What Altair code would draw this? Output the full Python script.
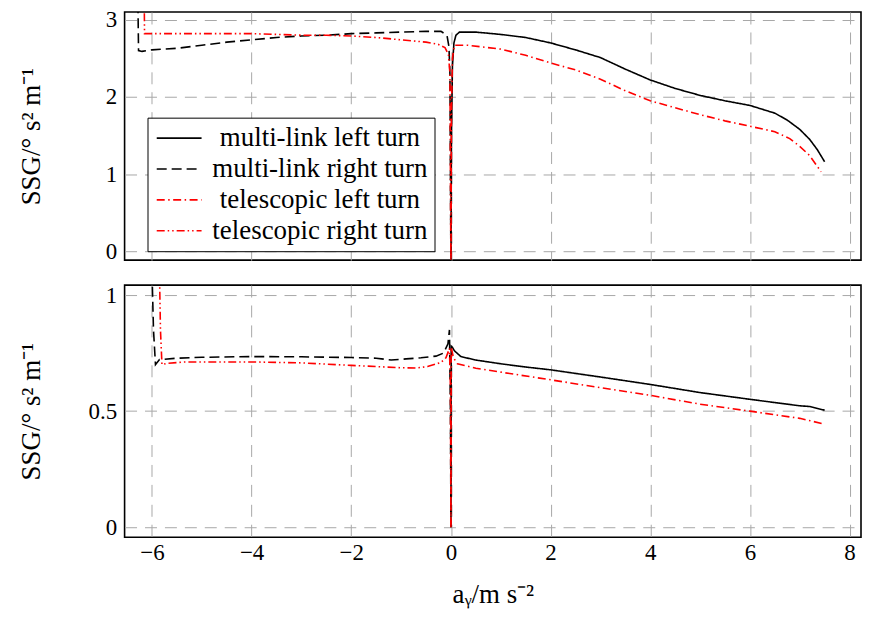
import altair as alt
import pandas as pd

series = ["multi-link left turn", "multi-link right turn",
          "telescopic left turn", "telescopic right turn"]
x_ticks = [-6, -4, -2, 0, 2, 4, 6, 8]

# ---- top panel ----
top_ml_left_x = [0.0, 0.01, 0.03, 0.06, 0.1, 0.17, 0.5, 1.0, 1.5, 2.0, 2.5, 3.0, 3.5,
                 4.0, 4.5, 5.0, 5.5, 6.0, 6.5, 6.75, 7.0, 7.2, 7.35, 7.5]
top_ml_left_y = [-0.3, 1.5, 2.4, 2.7, 2.8, 2.84, 2.84, 2.81, 2.77, 2.70, 2.61, 2.51, 2.36,
                 2.22, 2.11, 2.02, 1.95, 1.89, 1.79, 1.70, 1.58, 1.45, 1.32, 1.16]

top_ml_right_x = [-6.29, -6.27, -6.2, -6.0, -5.5, -5.0, -4.5, -4.0, -3.5, -3.0, -2.5, -2.0,
                  -1.5, -1.0, -0.5, -0.2, -0.08, -0.04, -0.02, 0.0]
top_ml_right_y = [3.6, 2.6, 2.59, 2.61, 2.63, 2.67, 2.71, 2.74, 2.77, 2.79, 2.80, 2.82,
                  2.83, 2.84, 2.85, 2.85, 2.80, 2.65, 2.3, -0.3]

top_tel_left_x = [0.0, 0.01, 0.03, 0.07, 0.33, 1.0, 1.5, 2.0, 2.5, 3.0, 3.5, 4.0, 4.5,
                  5.0, 5.5, 6.0, 6.5, 6.8, 7.0, 7.2, 7.43]
top_tel_left_y = [-0.3, 1.8, 2.5, 2.67, 2.67, 2.62, 2.54, 2.44, 2.35, 2.23, 2.08, 1.95, 1.86,
                  1.77, 1.69, 1.62, 1.55, 1.46, 1.36, 1.24, 1.03]

top_tel_right_x = [-6.16, -6.15, -6.0, -5.0, -4.0, -3.0, -2.5, -2.0, -1.5, -1.0, -0.5,
                   -0.25, -0.12, -0.05, -0.02, 0.0]
top_tel_right_y = [3.6, 2.82, 2.82, 2.82, 2.82, 2.80, 2.80, 2.79, 2.77, 2.74, 2.71,
                   2.68, 2.64, 2.55, 2.3, -0.3]

# ---- bottom panel ----
bot_ml_left_x = [0.0, 0.005, 0.03, 0.07, 0.2, 0.5, 1.0, 1.5, 2.0, 3.0, 4.0, 5.0, 6.0,
                 6.5, 7.0, 7.2, 7.5]
bot_ml_left_y = [0.0, 0.78, 0.775, 0.76, 0.735, 0.72, 0.704, 0.69, 0.678, 0.647, 0.615,
                 0.58, 0.551, 0.537, 0.523, 0.52, 0.504]

bot_ml_right_x = [-6.0, -5.97, -5.93, -5.85, -5.5, -5.0, -4.0, -3.0, -2.0, -1.5, -1.2,
                  -0.9, -0.6, -0.3, -0.15, -0.06, -0.03, -0.01, 0.0]
bot_ml_right_y = [1.1, 0.85, 0.70, 0.722, 0.728, 0.732, 0.735, 0.734, 0.731, 0.728, 0.72,
                  0.725, 0.73, 0.737, 0.75, 0.79, 0.85, 0.5, 0.0]

bot_tel_left_x = [0.0, 0.005, 0.05, 0.13, 0.5, 1.0, 2.0, 3.0, 4.0, 5.0, 6.0, 7.0, 7.5]
bot_tel_left_y = [0.0, 0.775, 0.73, 0.704, 0.685, 0.668, 0.635, 0.601, 0.568, 0.53, 0.5,
                  0.469, 0.444]

bot_tel_right_x = [-5.85, -5.83, -5.8, -5.7, -5.33, -4.0, -3.0, -2.0, -1.5, -1.0, -0.7,
                   -0.47, -0.2, -0.1, -0.03, -0.01, 0.0]
bot_tel_right_y = [1.1, 0.85, 0.70, 0.706, 0.712, 0.712, 0.708, 0.697, 0.692, 0.687, 0.686,
                   0.692, 0.71, 0.73, 0.77, 0.6, 0.0]


def frame(pairs):
    rows = []
    for s, xs, ys in pairs:
        for i, (xv, yv) in enumerate(zip(xs, ys)):
            rows.append({"series": s, "x": xv, "y": yv, "order": i})
    return pd.DataFrame(rows)


df_top = frame([
    (series[0], top_ml_left_x, top_ml_left_y),
    (series[1], top_ml_right_x, top_ml_right_y),
    (series[2], top_tel_left_x, top_tel_left_y),
    (series[3], top_tel_right_x, top_tel_right_y),
])
df_bot = frame([
    (series[0], bot_ml_left_x, bot_ml_left_y),
    (series[1], bot_ml_right_x, bot_ml_right_y),
    (series[2], bot_tel_left_x, bot_tel_left_y),
    (series[3], bot_tel_right_x, bot_tel_right_y),
])

FONT = "Liberation Serif"
legend = alt.Legend(
    title=None, orient="none", legendX=23, legendY=106,
    symbolType="M-1,0H3", symbolSize=506.25, symbolStrokeWidth=1.6,
    labelFont=FONT, labelFontSize=27, labelColor="black", labelLimit=500,
    labelAlign="center", labelOffset=139,
    padding=7, rowPadding=3,
    strokeColor="black", fillColor="white",
)
color = alt.Color("series:N", scale=alt.Scale(domain=series, range=["black", "black", "red", "red"]),
                  legend=legend)
dash = alt.StrokeDash("series:N", scale=alt.Scale(
    domain=series, range=[[1, 0], [10, 5], [8, 3.5, 1.5, 3.5], [8, 3, 1.5, 3, 1.5, 3]]),
    legend=legend)

xscale = alt.Scale(domain=[-6.55, 8.23], nice=False, zero=False)
ytitle = "SSG/° s² m⁻¹"

top = alt.Chart(df_top).mark_line(clip=True, strokeWidth=1.6).encode(
    x=alt.X("x:Q", scale=xscale,
            axis=alt.Axis(values=x_ticks, labels=False, title=None)),
    y=alt.Y("y:Q", scale=alt.Scale(domain=[-0.115, 3.1], nice=False, zero=False),
            axis=alt.Axis(values=[0, 1, 2, 3], title=ytitle, titleX=-85,
                          titleBaseline="alphabetic")),
    color=color, strokeDash=dash, order="order:Q",
).properties(width=739, height=249)

bottom = alt.Chart(df_bot).mark_line(clip=True, strokeWidth=1.6).encode(
    x=alt.X("x:Q", scale=xscale,
            axis=alt.Axis(values=x_ticks, title="aᵧ/m s⁻²", titleY=66,
                          titleBaseline="alphabetic", labelPadding=4)),
    y=alt.Y("y:Q", scale=alt.Scale(domain=[-0.043, 1.043], nice=False, zero=False),
            axis=alt.Axis(values=[0, 0.5, 1], format="~g", title=ytitle, titleX=-85,
                          titleBaseline="alphabetic")),
    color=color, strokeDash=dash, order="order:Q",
).properties(width=739, height=253)

chart = alt.vconcat(top, bottom, spacing=19).resolve_scale(y="independent").properties(
    padding={"left": 9, "top": -2, "right": 0, "bottom": 0}
).configure_view(stroke="black", strokeWidth=1.6).configure_axis(
    grid=True, gridColor="#a8a8a8", gridDash=[12, 8], gridWidth=1,
    domain=False, ticks=False, tickSize=0,
    labelFont=FONT, labelFontSize=23, labelColor="black", labelPadding=8,
    titleFont=FONT, titleFontSize=27, titleColor="black", titleFontWeight="normal",
)

chart.save("out.html", embed_options={"renderer": "svg", "actions": False})
